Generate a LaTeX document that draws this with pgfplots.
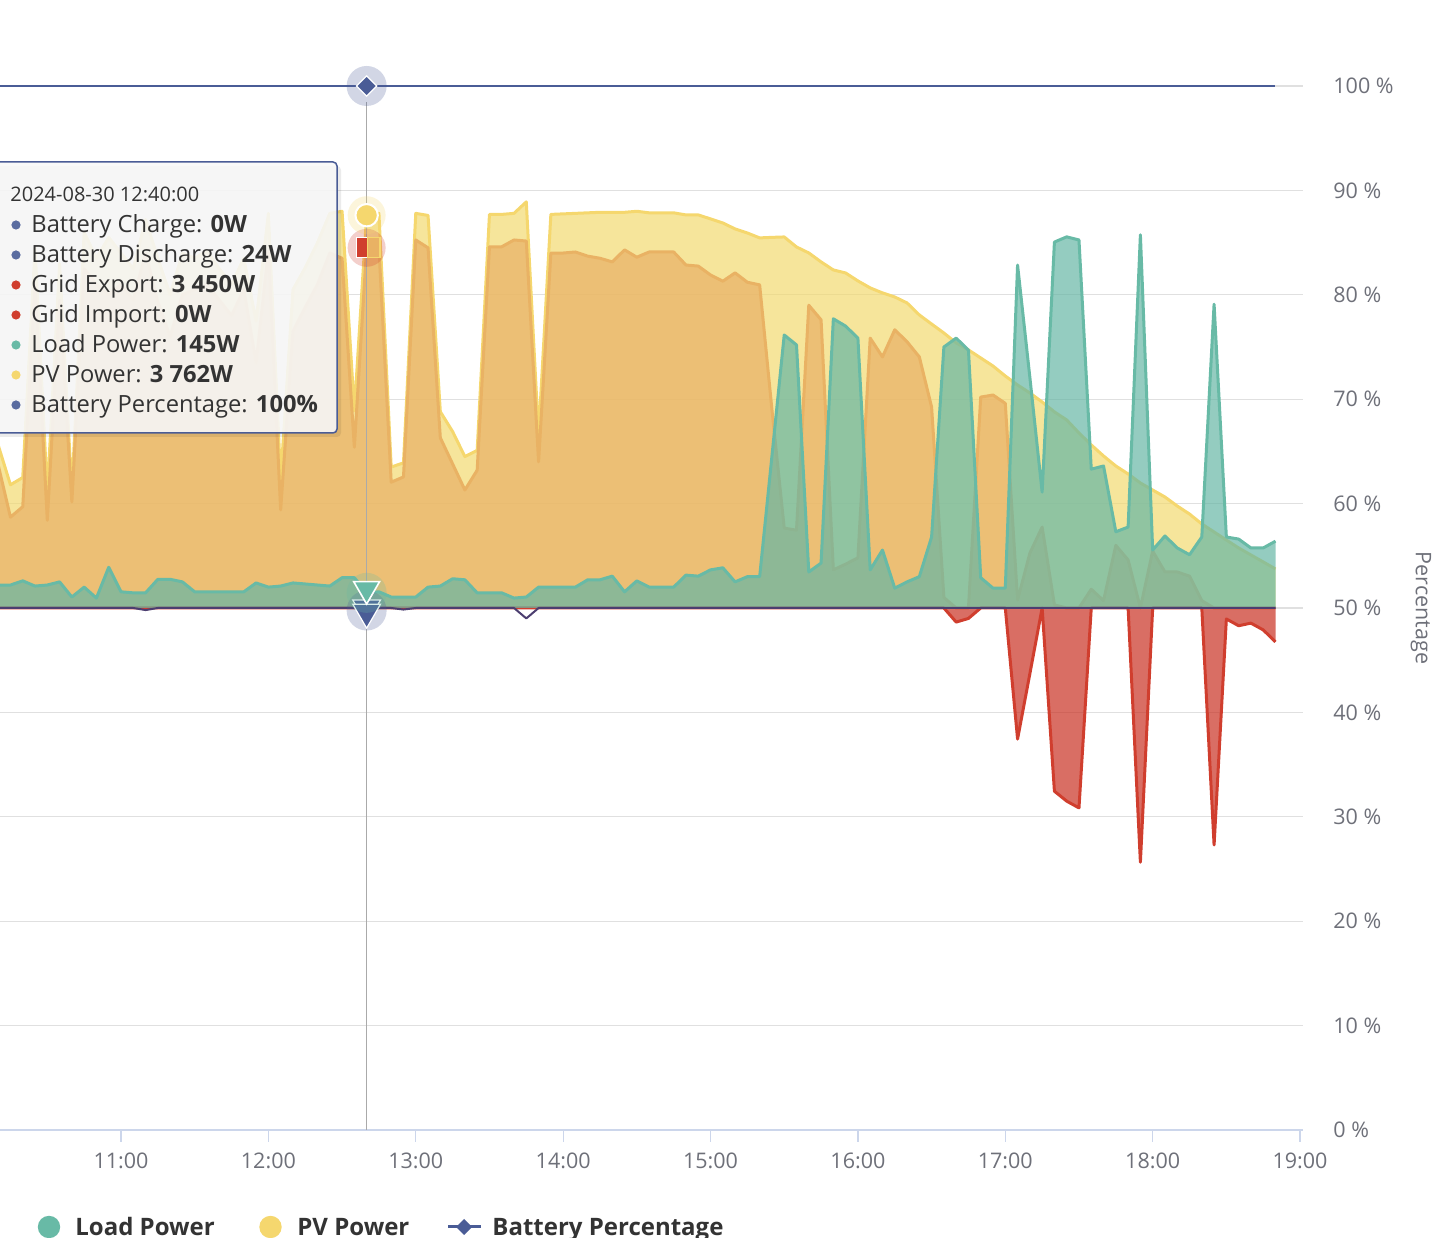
\documentclass[border=0pt]{standalone}
\usepackage{fontspec}
\setmainfont{Open Sans}
\usepackage{pgfplots}
\usepackage{pgfplotstable}
\pgfplotsset{compat=1.18}
\definecolor{pvline}{RGB}{245,215,110}
\definecolor{pvfill}{RGB}{242,218,112}
\definecolor{expline}{RGB}{233,178,100}
\definecolor{expfill}{RGB}{232,176,101}
\definecolor{impline}{RGB}{208,62,46}
\definecolor{impfill}{RGB}{201,48,34}
\definecolor{loadline}{RGB}{104,186,166}
\definecolor{loadfill}{RGB}{102,182,165}
\definecolor{navy}{RGB}{74,92,150}
\definecolor{basecol}{RGB}{76,62,112}
\definecolor{gridcol}{RGB}{224,224,224}
\definecolor{axcol}{RGB}{204,214,235}
\definecolor{lblcol}{RGB}{110,112,121}
\definecolor{txtcol}{RGB}{51,51,51}
\definecolor{dotnavy}{RGB}{90,108,160}
\definecolor{tipbg}{RGB}{248,248,248}
\definecolor{crosscol}{RGB}{170,170,170}

\pgfplotstableread{
t pv exp imp load bat soc
610 1560 1370 0 220 0 100
615 1180 870 0 220 0 100
620 1250 970 0 260 0 100
625 3450 3100 0 210 0 100
630 1100 840 0 220 0 100
635 3300 2950 0 250 0 100
640 1110 1015 0 105 0 100
645 3600 3250 0 200 0 100
650 3350 3100 0 95 0 100
655 3550 3000 0 390 0 100
660 3400 3100 0 155 0 100
665 3250 2950 0 145 0 100
670 3720 3400 0 145 -20 100
675 3350 2930 0 275 0 100
680 3000 2600 0 275 0 100
685 3400 3000 0 250 0 100
690 3350 3050 0 155 0 100
695 3420 3100 0 155 0 100
700 3250 2950 0 155 0 100
705 3100 2800 0 155 0 100
710 3350 3050 0 155 0 100
715 2750 2350 0 240 0 100
720 3780 3420 0 200 0 100
725 1230 940 0 210 0 100
730 3050 2650 0 240 0 100
735 3260 2880 0 230 0 100
740 3500 3100 0 220 0 100
745 3780 3400 0 210 0 100
750 3800 3350 0 290 0 100
755 1890 1540 0 290 0 100
760 3762 3450 0 145 -24 100
765 3780 3450 0 155 0 100
770 1350 1205 0 105 0 100
775 1390 1255 0 105 -15 100
780 3780 3525 0 105 0 100
785 3760 3450 0 200 0 100
790 1880 1630 0 210 0 100
795 1690 1380 0 280 0 100
800 1450 1130 0 270 0 100
805 1510 1320 0 145 0 100
810 3770 3460 0 145 0 100
815 3770 3460 0 145 0 100
820 3780 3525 0 95 0 100
825 3890 3515 0 105 -100 100
830 1655 1400 0 200 0 100
835 3770 3400 0 200 0 100
840 3775 3400 0 200 0 100
845 3780 3410 0 200 0 100
850 3785 3370 0 270 0 100
855 3790 3350 0 270 0 100
860 3790 3315 0 305 0 100
865 3790 3430 0 155 0 100
870 3800 3360 0 260 0 100
875 3785 3410 0 200 0 100
880 3785 3410 0 200 0 100
885 3785 3410 0 200 0 100
890 3765 3285 0 315 0 100
895 3765 3275 0 305 0 100
900 3727 3190 0 365 0 100
905 3688 3130 0 385 0 100
910 3631 3210 0 250 0 100
915 3592 3120 0 300 0 100
920 3545 3095 0 300 0 100
925 3550 1900 0 1455 0 100
930 3554 765 0 2615 0 100
935 3458 745 0 2520 0 100
940 3401 2900 0 345 0 100
945 3315 2760 0 430 0 100
950 3238 365 0 2770 0 100
955 3209 420 0 2700 0 100
960 3133 480 0 2585 0 100
965 3066 2585 0 365 0 100
970 3018 2405 0 555 0 100
975 2979 2665 0 190 0 100
980 2922 2550 0 250 0 100
985 2807 2405 0 300 0 100
990 2720 1925 0 680 0 100
995 2634 100 0 2500 0 100
1000 2539 0 -135 2585 0 100
1005 2472 0 -100 2470 0 100
1010 2395 2020 0 290 0 100
1015 2318 2040 0 190 0 100
1020 2222 1960 0 190 0 100
1025 2136 75 -1255 3285 0 100
1030 2060 525 -630 2210 0 100
1035 1973 775 0 1110 0 100
1040 1878 30 -1755 3505 0 100
1045 1801 0 -1850 3555 0 100
1050 1676 0 -1915 3525 0 100
1055 1562 180 0 1330 0 100
1060 1456 70 0 1360 0 100
1065 1360 600 0 730 0 100
1070 1284 460 0 775 0 100
1075 1197 0 -2435 3575 0 100
1080 1130 545 0 555 0 100
1085 1063 345 0 690 0 100
1090 977 345 0 575 0 100
1095 900 305 0 510 0 100
1100 805 70 0 680 0 100
1105 728 0 -2270 2910 0 100
1110 651 0 -105 680 0 100
1115 575 0 -170 660 0 100
1120 508 0 -145 575 0 100
1125 441 0 -210 575 0 100
1130 374 0 -325 640 0 100
}\data

\pgfplotsset{
  common/.style={at={(0pt,54pt)}, anchor=south west, scale only axis,
    width=651.5pt, height=522pt, xmin=610.74, xmax=1141.2},
  halo/.style={only marks, mark=*, color=#1, mark options={draw=none, draw opacity=0, fill=#1, fill opacity=0.25}},
}

\begin{document}
\begin{tikzpicture}
\useasboundingbox (0,0) rectangle (721pt,619pt);
% axis A: grid, ticks, labels
\begin{axis}[common, ymin=0, ymax=100,
  axis x line*=bottom, axis y line*=right,
  x axis line style={draw=axcol, line width=0.6pt, -},
  y axis line style={draw=none},
  xtick={660,720,780,840,900,960,1020,1080,1140},
  xticklabels={11:00,12:00,13:00,14:00,15:00,16:00,17:00,18:00,19:00},
  ytick={0,10,...,100},
  yticklabel={\pgfmathprintnumber{\tick} \%},
  /pgf/number format/assume math mode=true,
  ymajorgrids, grid style={draw=gridcol, line width=0.6pt},
  tick align=outside, major tick length=6pt,
  xtick style={draw=axcol, line width=0.6pt},
  ytick style={draw=none},
  xticklabel style={font=\fontsize{10.75}{13}\selectfont, text=lblcol, anchor=center, yshift=-9.5pt},
  yticklabel style={font=\fontsize{10.75}{13}\selectfont, text=lblcol, anchor=west, inner sep=0pt, xshift=9pt},
]
\addplot[draw=none] coordinates {(700,50)};
\end{axis}
% axis B: power data
\begin{axis}[common, ymin=-5000, ymax=5000, hide axis]
\addplot[draw=none, fill=pvfill, fill opacity=0.7] table[x=t,y=pv]{\data} \closedcycle;
\addplot[pvline, line width=1.5pt, line join=round] table[x=t,y=pv]{\data};
\addplot[draw=none, fill=expfill, fill opacity=0.7] table[x=t,y=exp]{\data} \closedcycle;
\addplot[expline, line width=1.5pt, line join=round] table[x=t,y=exp]{\data};
\addplot[draw=none, fill=impfill, fill opacity=0.7] table[x=t,y=imp]{\data} \closedcycle;
\addplot[impline, line width=1.5pt, line join=round] table[x=t,y=imp]{\data};
\addplot[draw=none, fill=loadfill, fill opacity=0.7] table[x=t,y=load]{\data} \closedcycle;
\addplot[loadline, line width=1.5pt, line join=round] table[x=t,y=load]{\data};
\addplot[basecol, line width=1pt, line join=round] table[x=t,y=bat]{\data};
\draw[crosscol, line width=0.5pt] (axis cs:760,-5000) -- (axis cs:760,4850);
% emphasis markers
\addplot[halo=navy, mark size=10pt] coordinates {(760,-24)};
\addplot[only marks, color=navy, mark=triangle*, mark size=8pt, mark options={rotate=180, fill=navy, draw=white, line width=0.6pt}] coordinates {(760,0)};
\addplot[only marks, color=navy, mark=triangle*, mark size=8pt, mark options={rotate=180, fill=navy, draw=white, line width=0.6pt}] coordinates {(760,-40)};
\addplot[halo=loadline, mark size=10pt] coordinates {(760,145)};
\addplot[only marks, color=loadline, mark=triangle*, mark size=7.5pt, mark options={yshift=1.9pt, rotate=180, fill=loadline, draw=white, line width=0.8pt}] coordinates {(760,145)};
\addplot[halo=impline, mark size=9.5pt] coordinates {(760,3450)};
\addplot[only marks, color=impline, mark=square*, mark size=5pt, mark options={fill=impline, draw=white, line width=0.5pt}] coordinates {(760,3450)};
\addplot[only marks, color=expline, mark=square*, mark size=5pt, mark options={xshift=3.6pt, xscale=0.62, fill=expline, draw=pvline, line width=0.6pt}] coordinates {(760,3450)};
\addplot[halo=pvline, mark size=9.5pt] coordinates {(760,3762)};
\addplot[only marks, color=pvline, mark=*, mark size=5.6pt, mark options={draw=white, line width=1pt, fill=pvline}] coordinates {(760,3762)};
\end{axis}
% axis C: battery percentage
\begin{axis}[common, ymin=0, ymax=100, hide axis, clip=false]
\addplot[navy, line width=1pt] table[x=t,y=soc]{\data};
\addplot[halo=navy, mark size=10pt] coordinates {(760,100)};
\addplot[only marks, color=navy, mark=square*, mark size=3.6pt, mark options={rotate=45, fill=navy, draw=white, line width=0.6pt}] coordinates {(760,100)};
\end{axis}
% overlays in pixel coordinates
\begin{scope}[x=0.5pt, y=-0.5pt, shift={(0pt,619pt)}]
\node[font=\fontsize{10.75}{13}\selectfont, text=lblcol] at (-26.2,1161) {10:00};
\node[rotate=-90, font=\fontsize{10.75}{13}\selectfont, text=lblcol] at (1421,608) {Percentage};
% tooltip
\fill[black, opacity=0.08, rounded corners=2pt] (-6,166) rectangle (341,437);
\filldraw[fill=tipbg, fill opacity=0.9, draw=navy, line width=0.75pt, rounded corners=2pt] (-10,162) rectangle (337,433);
\node[anchor=base west, inner sep=0pt, font=\fontsize{10}{12}\selectfont, text=txtcol] at (10,201.5) {2024-08-30 12:40:00};
\fill[dotnavy] (16,225) circle (2.3pt);
\fill[dotnavy] (16,255) circle (2.3pt);
\fill[impline] (16,285) circle (2.3pt);
\fill[impline] (16,315) circle (2.3pt);
\fill[loadline] (16,345) circle (2.3pt);
\fill[pvline] (16,375) circle (2.3pt);
\fill[dotnavy] (16,405) circle (2.3pt);
\begin{scope}[every node/.style={anchor=base west, inner sep=0pt, font=\fontsize{11.85}{14}\selectfont, text=txtcol}]
\node at (31,233) {Battery Charge: \textbf{0W}};
\node at (31,263) {Battery Discharge: \textbf{24W}};
\node at (31,293) {Grid Export: \textbf{3 450W}};
\node at (31,323) {Grid Import: \textbf{0W}};
\node at (31,353) {Load Power: \textbf{145W}};
\node at (31,383) {PV Power: \textbf{3 762W}};
\node at (31,413) {Battery Percentage: \textbf{100\%}};
\end{scope}
% legend
\fill[loadline] (49,1227) circle (5.6pt);
\fill[pvline] (270.5,1227) circle (5.6pt);
\draw[navy, line width=1.5pt] (448,1227) -- (481,1227);
\fill[navy] (464,1219) -- (472,1227) -- (464,1235) -- (456,1227) -- cycle;
\begin{scope}[every node/.style={anchor=base west, inner sep=0pt, font=\bfseries\fontsize{12}{14}\selectfont, text=txtcol}]
\node at (75,1236) {Load Power};
\node at (297,1236) {PV Power};
\node at (492,1236) {Battery Percentage};
\end{scope}
\end{scope}
\end{tikzpicture}
\end{document}
